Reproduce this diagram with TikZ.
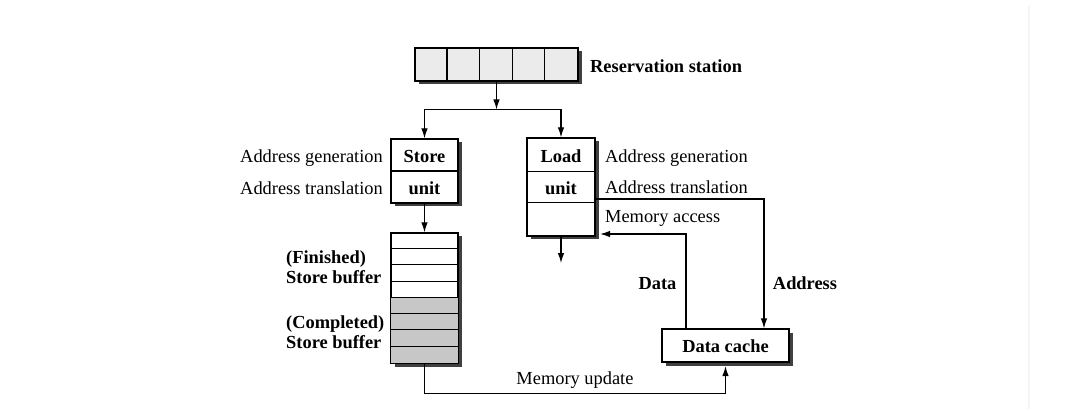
\documentclass[tikz,border=0pt]{standalone}
\usepackage{fontspec}
\setmainfont{Liberation Serif}
\usetikzlibrary{arrows.meta,shadows,calc}
\tikzset{
  box/.style={draw=black, line width=1.2pt, rectangle, inner sep=0pt, fill=white,
    general shadow={fill=black!75, shadow xshift=3.5pt, shadow yshift=-3.5pt}},
  lbl/.style={inner sep=0pt, text height=16.5pt, text depth=4pt, font=\fontsize{18.4}{22}\selectfont},
  blbl/.style={lbl, font=\fontsize{18.4}{22}\selectfont\bfseries},
  conn/.style={line width=1.2pt},
  arr/.style={conn, -{Latex[length=10pt,width=6.5pt]}},
  divline/.style={line width=1.1pt}
}
\begin{document}
\begin{tikzpicture}[x=1pt,y=-1pt]
\useasboundingbox[fill=white] (0,0) rectangle (1080,409);
\draw[black!4, line width=1.5pt] (1029,6) -- (1029,409);

% Reservation station
\node[box, fill=black!8, minimum width=163pt, minimum height=33pt] (rs) at (496.5,64.5) {};
\foreach \i in {1,2,3,4} \draw[divline] ($(rs.north west)+(32.6*\i pt,0)$) -- ($(rs.south west)+(32.6*\i pt,0)$);
\node[blbl, anchor=west] (rslbl) at (590,66) {Reservation station};
\coordinate (j) at (496.5,109.5);

% Store unit
\node[box, minimum width=67pt, minimum height=64pt] (su) at (424.5,171) {};
\draw[divline] (su.west) -- (su.east);
\node[blbl] (sut) at (424.5,156) {Store};
\node[blbl] (sub) at (424.5,188) {unit};
\node[lbl, anchor=east] (sag) at (383,156) {Address generation};
\node[lbl, anchor=east] (sat) at (383,188) {Address translation};

% Load unit
\node[box, minimum width=68pt, minimum height=98pt] (lu) at (561,187) {};
\draw[divline] ($(lu.north west)+(0,-34pt)$) -- ($(lu.north east)+(0,-34pt)$);
\draw[divline] ($(lu.north west)+(0,-65pt)$) -- ($(lu.north east)+(0,-65pt)$);
\node[blbl] (lut) at (561,156) {Load};
\node[blbl] (lub) at (561,188) {unit};
\node[lbl, anchor=west] (lag) at (605,156) {Address generation};
\node[lbl, anchor=west] (lat) at (605,187) {Address translation};
\node[lbl, anchor=west] (lma) at (605,216) {Memory access};
\coordinate (lout) at (561,263);

% Store buffer
\node[box, minimum width=67pt, minimum height=130pt] (sbuf) at (424.5,298) {};
\fill[black!22] ($(sbuf.west)+(0.6pt,0)$) rectangle ($(sbuf.south east)+(-0.6pt,0.6pt)$);
\draw[line width=1.2pt] (sbuf.north west) rectangle (sbuf.south east);
\foreach \i in {1,...,7} \draw[divline] ($(sbuf.north west)+(0,-16.25*\i pt)$) -- ($(sbuf.north east)+(0,-16.25*\i pt)$);
\node[blbl, anchor=west] (fin) at (286,257) {(Finished)};
\node[blbl, anchor=west] (fsb) at (286,277) {Store buffer};
\node[blbl, anchor=west] (com) at (286,322) {(Completed)};
\node[blbl, anchor=west] (csb) at (286,342) {Store buffer};

% Data cache
\node[box, minimum width=127pt, minimum height=33pt] (dc) at (725.5,345.5) {};
\node[blbl] (dct) at (725.5,346) {Data cache};

% labels
\node[blbl] (datal) at (657.5,283) {Data};
\node[blbl] (addrl) at (805,283) {Address};
\node[lbl] (mul) at (575,378) {Memory update};

% connectors
\draw[arr] (rs.south) -- (j);
\draw[arr] (j) -| (su.north);
\draw[arr] (j) -| (lu.north);
\draw[arr] (su.south) -- (sbuf.north);
\draw[arr] (lu.south) -- (lout);
\draw[arr] ([yshift=-12pt]lu.east) -| ([xshift=38.5pt]dc.north);
\draw[arr] ([xshift=-39.5pt]dc.north) |- ([xshift=4.5pt,yshift=-47pt]lu.east);
\draw[arr] (sbuf.south) -- ++(0,30) -| ([yshift=-3.5pt]dc.south);
\end{tikzpicture}
\end{document}
